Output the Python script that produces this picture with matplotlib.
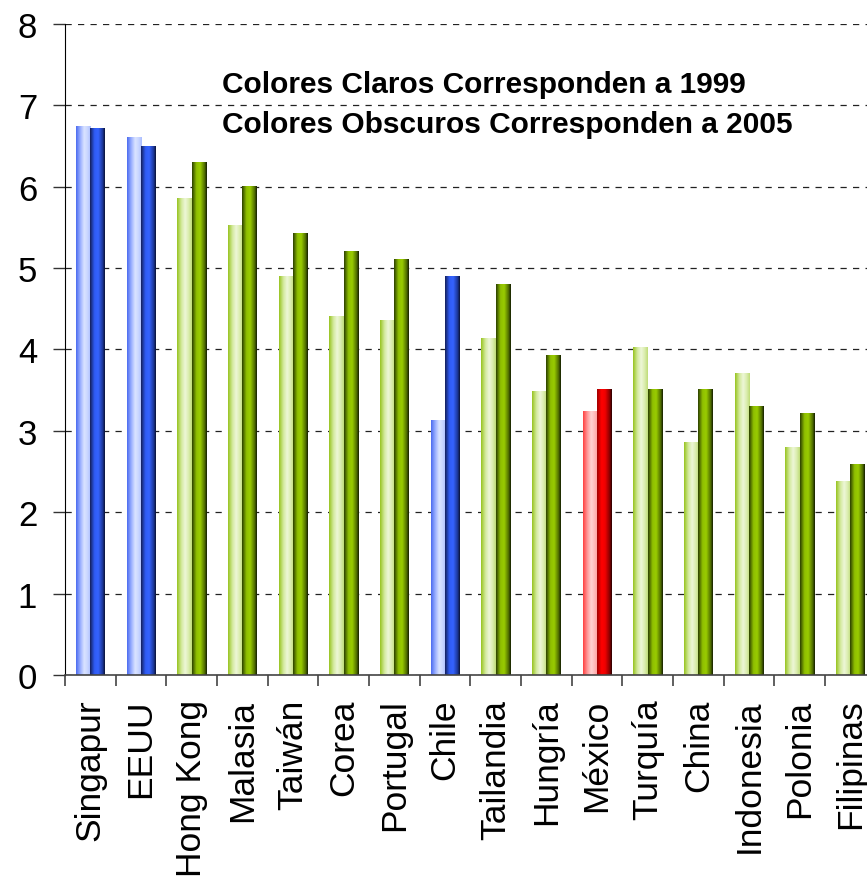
"""
Competitividad: comparacion 1999 vs 2005 con barras sombreadas
"""

import numpy as np
import matplotlib
matplotlib.use('Agg')
import matplotlib.pyplot as plt
from matplotlib.colors import to_rgb

plt.rcParams['font.family'] = ['Liberation Sans', 'DejaVu Sans']

# Datos
paises = ['Singapur', 'EEUU', 'Hong Kong', 'Malasia', 'Taiwán', 'Corea',
          'Portugal', 'Chile', 'Tailandia', 'Hungría', 'México', 'Turquía',
          'China', 'Indonesia', 'Polonia', 'Filipinas']
valores_1999 = [6.74, 6.61, 5.86, 5.52, 4.90, 4.41, 4.36, 3.13, 4.13, 3.48,
                3.24, 4.02, 2.86, 3.71, 2.80, 2.38]
valores_2005 = [6.71, 6.50, 6.30, 6.00, 5.42, 5.21, 5.11, 4.90, 4.80, 3.92,
                3.51, 3.51, 3.51, 3.30, 3.21, 2.59]
grupo = ['azul', 'azul', 'verde', 'verde', 'verde', 'verde', 'verde', 'azul',
         'verde', 'verde', 'rojo', 'verde', 'verde', 'verde', 'verde', 'verde']
nota_1 = 'Colores Claros Corresponden a 1999'
nota_2 = 'Colores Obscuros Corresponden a 2005'

# Paradas de degradado horizontal (posicion, color) para cada tipo de barra
degradados = {
    ('azul', 'claro'): [(0, '#4c6cf0'), (0.3, '#9db2ff'), (0.55, '#dbe4ff'),
                        (0.8, '#c6d4ff'), (1, '#aabdff')],
    ('azul', 'obscuro'): [(0, '#14205c'), (0.3, '#2f5cf5'), (0.55, '#3563ff'),
                          (0.85, '#1c3799'), (1, '#0a1236')],
    ('verde', 'claro'): [(0, '#98c420'), (0.3, '#d4ea9e'), (0.55, '#eef7d8'),
                         (0.8, '#d9ecab'), (1, '#bfdc78')],
    ('verde', 'obscuro'): [(0, '#2c4000'), (0.3, '#8fbf00'), (0.55, '#99cc00'),
                           (0.85, '#506e00'), (1, '#141e00')],
    ('rojo', 'claro'): [(0, '#ff4040'), (0.3, '#ff9a9a'), (0.55, '#ffd2d2'),
                        (0.8, '#ffb8b8'), (1, '#ff9999')],
    ('rojo', 'obscuro'): [(0, '#a00000'), (0.3, '#ff0000'), (0.55, '#f00000'),
                          (0.85, '#8a0000'), (1, '#280000')],
}


def gradiente(paradas, n=64):
    """Construye una imagen 1xN con el degradado horizontal"""
    pos = np.array([p for p, _ in paradas])
    cols = np.array([to_rgb(c) for _, c in paradas])
    t = np.linspace(0, 1, n)
    img = np.stack([np.interp(t, pos, cols[:, k]) for k in range(3)], axis=-1)
    return img[np.newaxis, :, :]


fig = plt.figure(figsize=(8.67, 8.78), dpi=100)
ax = fig.add_axes([0.075, 0.2301, 0.935, 0.7415])

x = np.arange(len(paises))
ancho = 0.286
barras_1999 = ax.bar(x - ancho / 2, valores_1999, ancho, color='none', zorder=2)
barras_2005 = ax.bar(x + ancho / 2, valores_2005, ancho, color='none', zorder=2)

for barras, tono in [(barras_1999, 'claro'), (barras_2005, 'obscuro')]:
    for p, g in zip(barras.patches, grupo):
        x0, w, h = p.get_x(), p.get_width(), p.get_height()
        ax.imshow(gradiente(degradados[(g, tono)]), extent=(x0, x0 + w, 0, h),
                  aspect='auto', interpolation='bilinear', zorder=2)

ax.set_xlim(-0.5, len(paises) - 0.5)
ax.set_ylim(0, 8)

# Ejes y cuadricula
ax.set_yticks(range(0, 9))
ax.yaxis.grid(True, linestyle=(0, (5, 5)), color='#222222', linewidth=0.9,
              zorder=0)
ax.set_axisbelow(True)
ax.tick_params(axis='y', direction='out', length=9, width=1, pad=11,
               labelsize=25, color='#333333')

ax.set_xticks(x)
ax.set_xticklabels(paises, rotation=90, fontsize=25.5)
ax.set_xticks(np.arange(-0.5, len(paises) + 0.5, 1), minor=True)
ax.tick_params(axis='x', which='major', length=0, pad=17)
ax.tick_params(axis='x', which='minor', length=8, width=1.2, color='#444444',
               direction='out')

for lado in ['top', 'right']:
    ax.spines[lado].set_visible(False)
ax.spines['left'].set_color('black')
ax.spines['bottom'].set_color('#444444')
ax.spines['bottom'].set_linewidth(1.2)

# Nota sobre los colores
ax.text(2.6, 7.26, nota_1, fontsize=21.5, fontweight='bold', va='center',
        ha='left', zorder=3)
ax.text(2.6, 6.77, nota_2, fontsize=21.5, fontweight='bold', va='center',
        ha='left', zorder=3)

fig.savefig('out.png', dpi=100)
